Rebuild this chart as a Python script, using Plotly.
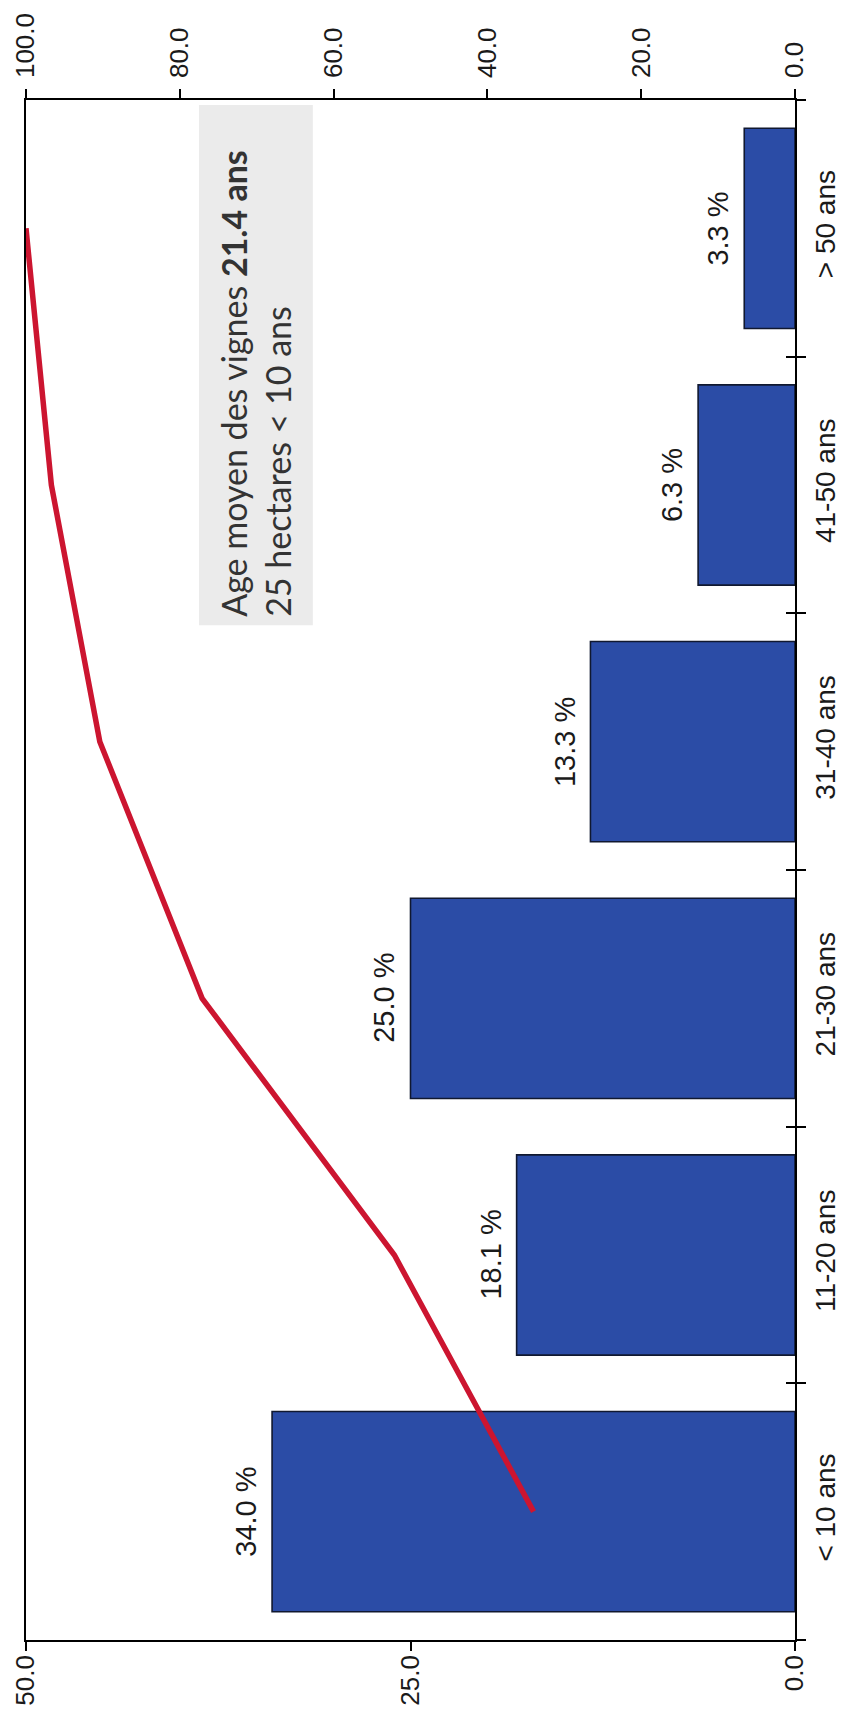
import plotly.graph_objects as go

# ---- data ----
categories = ["< 10 ans", "11-20 ans", "21-30 ans", "31-40 ans", "41-50 ans", "> 50 ans"]
shares = [34.0, 18.1, 25.0, 13.3, 6.3, 3.3]
cumulative = [34.0, 52.1, 77.1, 90.4, 96.7, 100.0]
share_labels = ["34.0 %", "18.1 %", "25.0 %", "13.3 %", "6.3 %", "3.3 %"]
left_ticks = [0, 25, 50]
right_ticks = [0, 20, 40, 60, 80, 100]
note_text = "Age moyen des vignes <b>21.4 ans</b><br>25 hectares &lt; 10 ans"

SANS = "Liberation Sans, Arial, sans-serif"
BAR_COLOR = "#2b4ca6"
LINE_COLOR = "#cc1530"
INK = "#1a1a1a"

fig = go.Figure()
fig.add_trace(go.Bar(
    x=shares, y=categories, orientation="h",
    marker=dict(color=BAR_COLOR, line=dict(color="#101830", width=1.6)),
    xaxis="x", yaxis="y", showlegend=False, hoverinfo="skip",
))
fig.add_trace(go.Scatter(
    x=cumulative, y=categories, mode="lines",
    line=dict(color=LINE_COLOR, width=5.5),
    xaxis="x2", yaxis="y2", showlegend=False, hoverinfo="skip",
))

for v, c, t in zip(shares, categories, share_labels):
    fig.add_annotation(
        x=v, y=c, xref="x", yref="y", text=t, textangle=-90, showarrow=False,
        xanchor="center", yanchor="middle", xshift=-26,
        font=dict(family=SANS, size=29, color=INK),
    )

fig.add_shape(type="rect", xref="paper", yref="paper",
              x0=0.225, x1=0.373, y0=0.659, y1=0.9968,
              fillcolor="#ebebeb", line=dict(width=0), layer="below")
fig.add_annotation(
    xref="paper", yref="paper", x=0.299, y=0.664, xanchor="center", yanchor="bottom",
    text=note_text, textangle=-90, showarrow=False, align="left", borderpad=0,
    font=dict(family="Lato, Open Sans, sans-serif", size=34, color="#333333"),
)

axis_common = dict(showgrid=False, zeroline=False, fixedrange=True, automargin=False,
                   linecolor="black", linewidth=1.5, tickcolor="black", tickwidth=1.5)
tick_font = dict(family=SANS, size=26, color=INK)

fig.update_layout(
    width=840, height=1714,
    margin=dict(l=18, r=53, t=92, b=82),
    paper_bgcolor="white", plot_bgcolor="white",
    bargap=0.22, showlegend=False,
    xaxis=dict(range=[50, 0], tickvals=left_ticks, tickformat=".1f", tickangle=-90,
               ticks="outside", ticklen=9, showline=True, ticklabelstandoff=-6,
               tickfont=tick_font, **axis_common),
    xaxis2=dict(overlaying="x", side="top", anchor="y", range=[100, 0], tickvals=right_ticks,
                tickformat=".1f", tickangle=-90, ticks="outside", ticklen=9, showline=True,
                ticklabelstandoff=6, tickfont=tick_font, **axis_common),
    xaxis3=dict(overlaying="x", side="bottom", anchor="y", range=[50, 0], tickvals=left_ticks,
                ticks="inside", ticklen=9, showticklabels=False, showline=False, **axis_common),
    xaxis4=dict(overlaying="x", side="top", anchor="y", range=[100, 0], tickvals=right_ticks,
                ticks="inside", ticklen=9, showticklabels=False, showline=False, **axis_common),
    yaxis=dict(type="category", categoryorder="array", categoryarray=categories,
               range=[-0.5, 5.5], side="right", tickangle=-90, ticks="outside",
               tickson="boundaries", ticklen=9, showline=True, mirror=True,
               ticklabelstandoff=5,
               tickfont=dict(family=SANS, size=28, color=INK), **axis_common),
    yaxis2=dict(type="category", categoryorder="array", categoryarray=categories,
                overlaying="y", side="right", anchor="x", range=[-0.5, 5.5],
                ticks="inside", tickson="boundaries", ticklen=9, showticklabels=False,
                showline=False, **axis_common),
)

fig.write_html("out.html")
